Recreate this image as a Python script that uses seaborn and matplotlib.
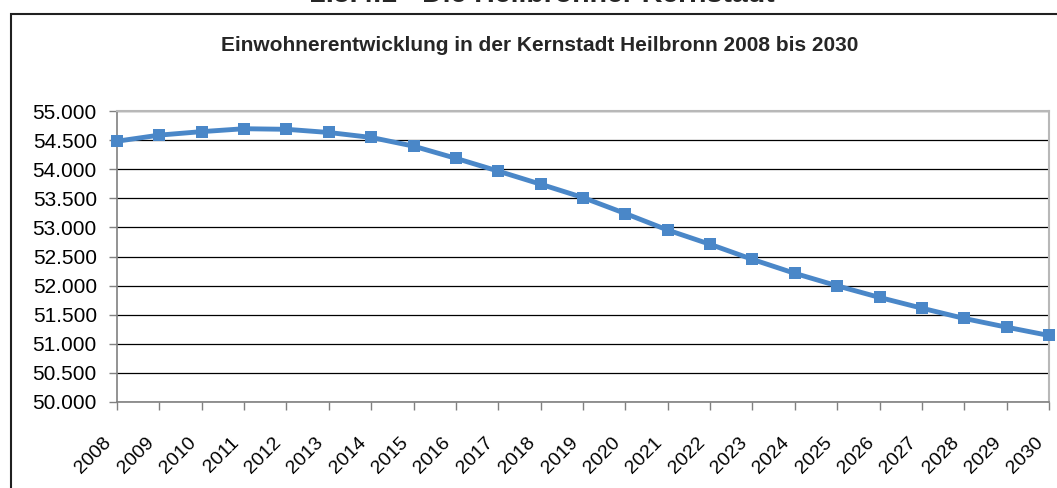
import pandas as pd
import seaborn as sns
import matplotlib.pyplot as plt
from matplotlib.patches import Rectangle
from matplotlib.ticker import FuncFormatter
from matplotlib.transforms import ScaledTranslation

# Einwohner Kernstadt Heilbronn
years = list(range(2008, 2031))
population = [54485, 54590, 54650, 54700, 54690, 54635, 54550, 54400, 54190, 53970,
              53745, 53515, 53240, 52955, 52710, 52450, 52210, 51995, 51795, 51610,
              51433, 51283, 51140]
y_ticks = list(range(50000, 55001, 500))

df = pd.DataFrame({'Jahr': years, 'Einwohner': population})

sns.set_theme(style='white')
plt.rcParams['font.family'] = ['Liberation Sans', 'DejaVu Sans']

fig = plt.figure(figsize=(10.57, 4.88), dpi=100)
ax = fig.add_axes([117 / 1057, 1 - 401.7 / 488, (1049 - 117) / 1057, (401.7 - 111.3) / 488])

sns.lineplot(data=df, x='Jahr', y='Einwohner', ax=ax, color='#4a87c8', linewidth=3.5,
             marker='s', markersize=9, markeredgewidth=0, zorder=3, clip_on=False)

ax.set_xlim(2008, 2030)
ax.set_ylim(50000, 55000)
ax.set_yticks(y_ticks)
ax.set_xticks(years)
ax.yaxis.set_major_formatter(FuncFormatter(lambda v, p: f'{v:,.0f}'.replace(',', '.')))
ax.set_xlabel('')
ax.set_ylabel('')

ax.grid(axis='y', color='black', linewidth=0.9)
ax.grid(axis='x', visible=False)
ax.tick_params(axis='y', which='major', left=True, length=6, width=1, color='#808080',
               labelsize=15, pad=8.5, labelcolor='black')
ax.tick_params(axis='x', which='major', bottom=True, length=6, width=1, color='#808080',
               labelsize=14, pad=17.5, labelcolor='black')
ax.set_xticklabels([str(y) for y in years])

for side in ['left', 'bottom']:
    ax.spines[side].set_color('#808080')
    ax.spines[side].set_linewidth(1.2)
for side in ['top', 'right']:
    ax.spines[side].set_color('#b8b8b8')
    ax.spines[side].set_linewidth(1.5)

# outer chart frame
fig.patches.append(Rectangle((11 / 1057, -0.2), 1.2, 1.2 - 14 / 488, transform=fig.transFigure,
                             fill=False, edgecolor='#202020', linewidth=1.5))

fig.text(0.511, 1 - 51 / 488, 'Einwohnerentwicklung in der Kernstadt Heilbronn 2008 bis 2030',
         ha='center', va='baseline', fontsize=15, fontweight='bold')
fig.text(0.513, 1 - 2 / 488, '2.5.4.1 - Die Heilbronner Kernstadt',
         ha='center', va='baseline', fontsize=20.5, fontweight='bold')

# rotated year labels, shifted left of their ticks
fig.canvas.draw()
shift = ScaledTranslation(-14 / 100, 0, fig.dpi_scale_trans)
for lbl in ax.get_xticklabels():
    lbl.set_rotation(45)
    lbl.set_rotation_mode('anchor')
    lbl.set_horizontalalignment('right')
    lbl.set_verticalalignment('top')
    lbl.set_transform(lbl.get_transform() + shift)

plt.savefig('out.png', dpi=100)
